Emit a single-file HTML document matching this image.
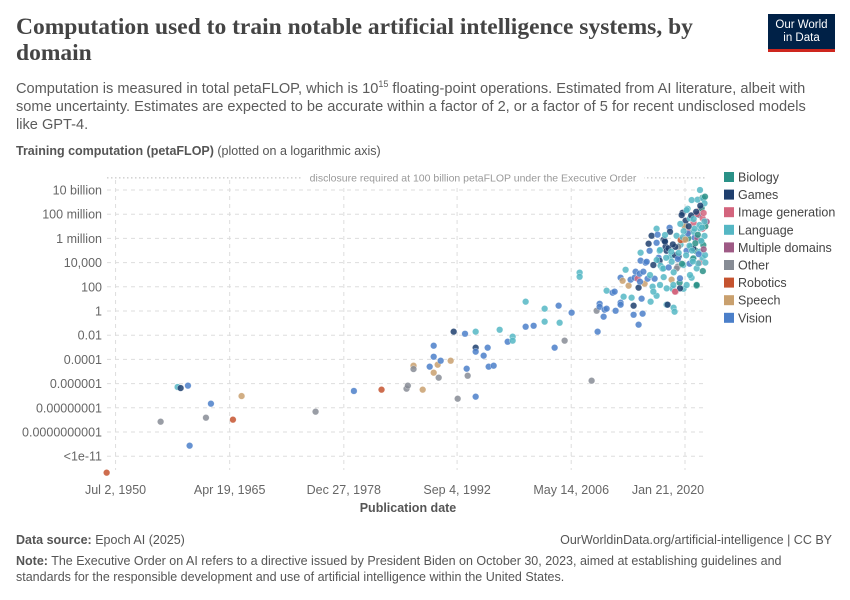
<!DOCTYPE html>
<html><head><meta charset="utf-8"><style>
body{margin:0;width:850px;height:600px;background:#fff;font-family:"Liberation Sans",sans-serif;position:relative;overflow:hidden}
.abs{position:absolute}
</style></head><body>
<div class="abs" style="left:16px;top:14px;width:720px;font-family:'Liberation Serif',serif;font-weight:bold;font-size:23.5px;line-height:26px;color:#444">Computation used to train notable artificial intelligence systems, by domain</div>
<div class="abs" style="left:768px;top:14px;width:67px;height:38px;background:#002147;border-bottom:3px solid #ce261e;box-sizing:border-box;color:#fff;font-size:11.5px;line-height:13px;text-align:center;padding-top:5px">Our World<br>in Data</div>
<div class="abs" style="left:16px;top:75px;width:810px;font-size:14.6px;line-height:18px;color:#5b5b5b">Computation is measured in total petaFLOP, which is 10<sup style="font-size:9px">15</sup> floating-point operations. Estimated from AI literature, albeit with some uncertainty. Estimates are expected to be accurate within a factor of 2, or a factor of 5 for recent undisclosed models like GPT-4.</div>
<div class="abs" style="left:16px;top:144px;font-size:12.5px;color:#555"><b>Training computation (petaFLOP)</b> (plotted on a logarithmic axis)</div>
<svg class="abs" id="chart" style="left:0;top:0" width="850" height="600"></svg>
<div class="abs" style="left:16px;top:533px;font-size:12.5px;color:#555"><b>Data source:</b> Epoch AI (2025)</div>
<div class="abs" style="right:18px;top:533px;font-size:12.5px;color:#555">OurWorldinData.org/artificial-intelligence | CC BY</div>
<div class="abs" style="left:16px;top:553px;width:815px;font-size:12.5px;line-height:16px;color:#555"><b>Note:</b> The Executive Order on AI refers to a directive issued by President Biden on October 30, 2023, aimed at establishing guidelines and standards for the responsible development and use of artificial intelligence within the United States.</div>
<script>
const domains=["Biology","Games","Image generation","Language","Multiple domains","Other","Robotics","Speech","Vision"];
const domainColors=["#2a9187","#1f3f6e","#d3647d","#55b7c4","#9e5a85","#878c95","#c5532f","#c9a06e","#4b7fc9"];
const yTickValues=[10,8,6,4,2,0,-2,-4,-6,-8,-10,-12];
const yTickLabels=["10 billion","100 million","1 million","10,000","100","1","0.01","0.0001","0.000001","0.00000001","0.0000000001","<1e-11"];
const xTickYears=[1951.7,1965.4,1979.1,1992.7,2006.4,2020.06];
const xTickLabels=["Jul 2, 1950","Apr 19, 1965","Dec 27, 1978","Sep 4, 1992","May 14, 2006","Jan 21, 2020"];
const years=[1950.63,1957.11,1959.15,1959.51,1960.39,1960.59,1963.15,1962.55,1965.79,1966.83,1975.71,1980.31,1983.63,1986.63,1986.79,1987.47,1987.47,
1988.57,1989.41,1989.89,1989.89,1989.89,1990.37,1990.49,1990.73,1991.93,1992.29,1992.77,1993.65,1993.85,1993.97,1994.93,1994.93,1994.93,1994.93,1995.89,1996.37,1996.49,1997.09,1997.81,1998.77,1999.37,1999.37,2000.93,2000.93,2001.89,2003.21,2003.21,2004.41,2004.89,2005.01,2005.61,2006.45,2007.41,2007.41,2008.85,2009.45,2009.57,2009.81,2009.81,2010.29,2010.41,2010.65,2010.65,2011.37,2011.61,2011.73,2012.33,2012.33,2012.69,2012.33,2012.57,2012.93,2013.29,2013.53,2013.65,2013.89,2013.89,2014.01,2014.13,2014.37,2014.49,2014.49,2014.61,2014.73,2014.73,2014.85,2014.97,2015.21,2015.33,2015.57,2015.69,2015.81,2015.93,2016.05,2016.17,2016.41,2016.65,2016.65,2016.65,2016.77,2016.89,2017.01,2017.01,2017.13,2017.37,2017.49,2017.61,2017.73,2017.85,2017.85,2017.97,2018.21,2018.33,2018.45,2018.57,2018.69,2018.81,2018.93,2019.05,2019.17,2019.29,2019.41,2019.53,2019.77,2019.89,2019.89,2020.01,2020.13,2020.25,2020.37,2020.49,2020.61,2020.73,2020.85,2020.97,2021.09,2021.21,2021.33,2021.45,2021.57,2021.69,2021.81,2021.93,2022.05,2022.17,2022.17,2022.17,
2022.26,2022.06,2022.18,2021.86,2021.54,2021.06,2020.66,2020.26,2019.66,2020.06,2020.46,2019.54,2019.26,2018.86,2018.46,2018.06,2017.66,2017.06,2016.66,2016.26,2015.46,2015.06,2014.66,2015.86,2017.46,2019.06,2019.86,2021.06,2021.86,2022.26,2021.46,2020.66,2019.46,2018.66,2017.86,2017.06,2016.26,2019.46,2018.86,2021.46,2020.26,2021.06,2018.26,2017.66,2021.86,2022.46,2022.66,2022.46,2021.66,2020.86,
2022.4,2022.3,2022.5,2022.4,2022.3,2022.5,2022.2,2022.4,2021.9,2022.0,2021.7,2021.8,2021.5,2021.3,2021.2,2021.0,2020.8,2020.6,2020.4,2020.2,2019.9,2019.7,2019.5,2019.2,2018.9,2018.7,2018.4,2018.1,2017.8,2017.5,2021.6,2021.1,2020.5,2019.8,2022.1,2021.4,2020.9,2020.1,2019.3,2018.6];
const computeLog10=[-13.36,-9.15,-6.28,-6.37,-6.17,-11.13,-7.66,-8.82,-8.98,-7.03,-8.32,-6.61,-6.5,-6.42,-6.17,-4.52,-4.8,
-6.5,-4.6,-3.78,-2.87,-5.1,-4.44,-5.51,-4.11,-4.11,-1.71,-7.25,-1.88,-4.77,-5.35,-1.71,-3.03,-3.36,-7.08,-3.69,-3.03,-4.6,-4.52,-1.55,-2.54,-2.12,-2.45,0.77,-1.3,-1.22,0.19,-0.88,-3.03,0.44,-0.97,-2.45,-0.14,3.17,2.83,-5.76,0.02,-1.71,0.6,0.35,-0.47,0.11,1.68,0.19,1.51,1.6,0.02,0.69,0.52,1.18,2.75,2.5,3.41,2.09,2.59,1.1,0.44,-0.31,2.75,3.25,2.67,-1.13,1.93,3.08,4.82,4.16,1.02,-0.22,2.26,3.99,2.67,5.56,4.98,0.77,6.22,2.01,2.67,6.8,5.64,1.26,6.31,4.4,4.98,4.16,3.74,3.5,5.89,5.81,5.31,4.98,0.52,0.52,6.88,4.49,2.59,1.84,0.27,-0.06,1.6,6.22,3.66,4.49,2.34,5.48,8.12,5.89,1.84,6.97,7.46,4.98,8.45,6.55,3.91,5.31,2.75,4.24,7.3,6.06,4.98,2.09,9.2,7.96,3.99,8.45,5.73,9.36,6.8,4.4,
9.31,8.48,7.66,6.83,6.0,6.55,7.66,8.34,7.93,6.97,6.0,5.86,5.31,4.62,4.07,5.18,5.73,5.04,4.21,3.8,4.07,3.25,2.42,2.97,3.52,3.52,3.8,4.35,4.9,5.45,3.52,2.97,2.7,2.15,1.87,2.15,1.6,1.87,1.6,2.15,2.15,5.18,6.55,6.28,10.0,9.45,7.38,4.62,3.93,9.17,
8.9,8.1,7.0,6.2,5.1,4.0,3.3,7.4,8.7,5.8,4.7,7.1,8.0,5.6,6.8,4.1,7.9,5.4,6.4,4.6,6.6,3.9,7.2,4.3,5.3,3.2,4.9,3.6,4.4,2.8,6.3,7.6,7.0,6.1,6.9,8.2,5.0,5.9,4.8,5.5];
const domainIndex=[6,5,3,1,8,8,8,5,6,7,5,8,6,5,5,7,5,
7,8,8,8,7,7,5,8,7,1,5,8,8,5,3,1,8,8,8,8,8,8,3,8,3,3,3,8,8,3,3,8,8,3,5,8,3,3,5,5,8,8,8,8,8,3,8,8,8,8,8,8,3,8,7,3,7,8,3,1,8,8,8,2,8,1,8,3,8,8,8,7,8,8,1,8,3,1,3,8,3,8,3,8,8,3,1,3,3,1,1,1,1,3,1,8,3,7,3,3,3,2,3,5,1,0,3,1,6,3,3,1,8,3,2,8,0,3,3,2,8,0,0,3,1,2,2,0,0,2,3,
3,0,2,3,4,3,3,3,1,7,0,6,5,1,3,1,1,3,3,1,8,8,8,3,3,5,3,0,3,0,3,3,8,3,3,3,3,1,2,0,3,1,1,3,3,0,4,3,3,3,
3,2,0,3,4,3,0,3,1,3,8,3,2,0,3,3,1,3,8,3,3,0,3,8,1,3,3,8,3,3,0,3,1,3,3,1,3,7,3,1];
const NS="http://www.w3.org/2000/svg";
const svg=document.getElementById('chart');
const X0=685,XPY=8.33,Y0=311,YPL=12.1;
function xs(yr){return X0+(yr-2020.06)*XPY;}
function ys(l){return Y0-l*YPL;}
function mk(t,a){const e=document.createElementNS(NS,t);for(const k in a)e.setAttribute(k,a[k]);svg.appendChild(e);return e;}
yTickValues.forEach((v,i)=>{
 const g=mk('line',{x1:107,x2:706,y1:ys(v),y2:ys(v),stroke:'#ddd','stroke-dasharray':'4 4'});
 
 
 const t=mk('text',{x:102,y:ys(v)+4.5,'text-anchor':'end','font-size':'12.5','fill':'#666','font-family':'Liberation Sans'});
 t.textContent=yTickLabels[i];
 
 
});
xTickYears.forEach((v,i)=>{
 const g=mk('line',{x1:xs(v),x2:xs(v),y1:180,y2:470,stroke:'#ddd','stroke-dasharray':'4 4'});
 
 
 let x=xs(v);if(i==xTickYears.length-1)x-=17;
 const t=mk('text',{x:x,y:494,'text-anchor':'middle','font-size':'12.5','fill':'#666','font-family':'Liberation Sans'});
 t.textContent=xTickLabels[i];
 
 
});
const dl=mk('line',{x1:107,x2:706,y1:ys(11),y2:ys(11),stroke:'#bbb','stroke-dasharray':'1.5 2.5'});


const dr=mk('rect',{x:302,y:ys(11)-7,width:342,height:13,fill:'#fff'});


const dt=mk('text',{x:473,y:ys(11)+3.5,'text-anchor':'middle','font-size':'10.5','fill':'#999','font-family':'Liberation Sans'});
dt.textContent='disclosure required at 100 billion petaFLOP under the Executive Order';


const xt=mk('text',{x:408,y:512,'text-anchor':'middle','font-size':'12.5','font-weight':'bold','fill':'#555','font-family':'Liberation Sans'});
xt.textContent='Publication date';


years.forEach((yr,i)=>{
 const c=mk('circle',{cx:xs(yr),cy:ys(computeLog10[i]),r:3.3,fill:domainColors[domainIndex[i]],'fill-opacity':0.85,stroke:'#fff','stroke-width':0.3});
 
 
});
domains.forEach((d,i)=>{
 const y=177+i*17.6;
 const r=mk('rect',{x:724,y:y-5,width:10,height:10,fill:domainColors[i]});
 
 
 const t=mk('text',{x:738,y:y+4.5,'font-size':'12.5','fill':'#444','font-family':'Liberation Sans'});
 t.textContent=d;
 
 
});
</script>
</body></html>
